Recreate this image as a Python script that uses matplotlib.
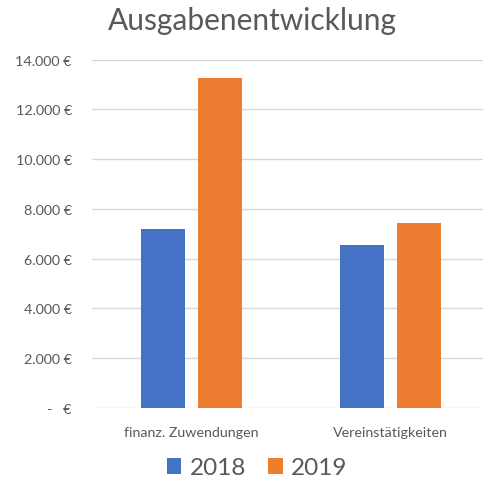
import matplotlib
matplotlib.use("Agg")
import matplotlib.pyplot as plt
import numpy as np
from matplotlib.patches import Patch

categories = ["finanz. Zuwendungen", "Vereinstätigkeiten"]
series_names = ["2018", "2019"]
values_2018 = [7200, 6560]
values_2019 = [13250, 7430]
yticks = [0, 2000, 4000, 6000, 8000, 10000, 12000, 14000]
ytick_labels = ["-   €", "2.000 €", "4.000 €", "6.000 €", "8.000 €", "10.000 €", "12.000 €", "14.000 €"]
title = "Ausgabenentwicklung"

colors = ["#4472C4", "#ED7D31"]
text_color = "#595959"
plt.rcParams['font.family'] = ['Lato', 'DejaVu Sans']

W, H = 483, 485
fig = plt.figure(figsize=(W / 100, H / 100), dpi=100)
left, right = 92, 490
bottom, top = 409, 60.7
ax = fig.add_axes([left / W, 1 - bottom / H, (right - left) / W, (bottom - top) / H])

x = np.arange(len(categories))
bw = 0.222
off = 0.142
ax.bar(x - off, values_2018, bw, color=colors[0], zorder=3)
ax.bar(x + off, values_2019, bw, color=colors[1], zorder=3)

ax.set_xlim(-0.5, 1.5)
ax.set_ylim(0, 14000)
ax.set_yticks(yticks)
ax.set_yticklabels(ytick_labels)
ax.set_xticks(x)
ax.set_xticklabels(categories)
ax.tick_params(axis='both', length=0, colors=text_color, labelsize=10.3)
ax.tick_params(axis='y', pad=14.5)
ax.tick_params(axis='x', pad=13)
for s in ax.spines.values():
    s.set_visible(False)
ax.grid(axis='y', color="#D9D9D9", linewidth=1, zorder=0)
ax.set_axisbelow(True)

fig.text(252 / W, 1 - 21 / H, title, ha='center', va='center', fontsize=21.5, color=text_color)

handles = [Patch(facecolor=c) for c in colors]
fig.legend(handles, series_names, loc='center', bbox_to_anchor=(257 / W, 1 - 469 / H), ncol=2,
           frameon=False, fontsize=17.5, handlelength=0.6, handleheight=0.6, handletextpad=0.35,
           columnspacing=0.9, labelcolor=text_color)

fig.savefig("out.png", dpi=100)
